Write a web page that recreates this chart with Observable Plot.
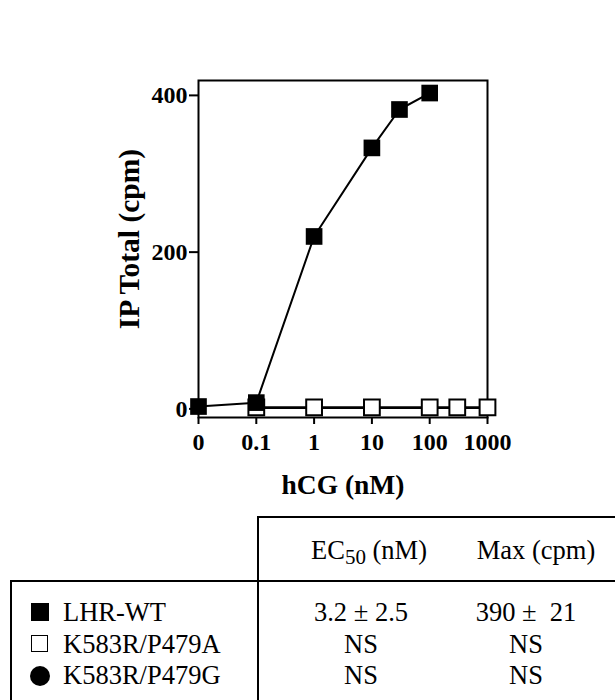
<!DOCTYPE html>
<html>
<head>
<meta charset="utf-8">
<script src="https://cdn.jsdelivr.net/npm/d3@7"></script>
<script src="https://cdn.jsdelivr.net/npm/@observablehq/plot@0.6"></script>
<style>
  html, body { margin: 0; padding: 0; background: #fff; }
  #wrap { position: relative; width: 615px; height: 700px; overflow: hidden; font-family: "Liberation Serif", "Times New Roman", serif; }
  #chart svg { display: block; }
  [aria-label^="x-axis"] line, [aria-label^="y-axis"] line,
  [aria-label="x-axis tick"] path, [aria-label="y-axis tick"] path { stroke-width: 2px; }
  .hl { position: absolute; background: #000; height: 2px; }
  .vl { position: absolute; background: #000; width: 2px; }
  .cell { position: absolute; font-size: 26.5px; line-height: 26.5px; white-space: pre; color: #000; }
  .ctr { transform: translateX(-50%); }
  .cell sub { font-size: 21px; vertical-align: -5px; line-height: 0; }
  .sym { position: absolute; box-sizing: border-box; }
</style>
</head>
<body>
<div id="wrap"><div id="chart"></div></div>
<script>
// ---- data ----
const doseWT = [0, 0.1, 1, 10, 30, 100];            // hCG (nM)
const ipWT   = [3, 8, 220, 333, 382, 403];          // IP total (cpm)
const doseA  = [0.1, 1, 10, 100, 300, 1000];
const ipA    = [2, 2, 2, 2, 2, 2];
const doseG  = [0.1, 1, 10, 100, 300, 1000];        // hidden behind open squares
const ipG    = [1, 1, 1, 1, 1, 1];
const xTicks = [0, 0.1, 1, 10, 100, 1000];
const yTicks = [0, 200, 400];
const seriesNames = ["LHR-WT", "K583R/P479A", "K583R/P479G"];
const ec50Values  = ["3.2 \u00B1 2.5", "NS", "NS"];
const maxValues   = ["390 \u00B1  21", "NS", "NS"];
const xLabel = "hCG (nM)";
const yLabel = "IP Total (cpm)";

// zero dose is drawn one decade below 0.1 on the log axis
const ZERO_POS = 0.01;
const pos = d => d === 0 ? ZERO_POS : d;
const toRows = (dose, ip) => dose.map((d, i) => ({dose: d, x: pos(d), ip: ip[i]}));
const wt = toRows(doseWT, ipWT);
const pa = toRows(doseA, ipA);
const pg = toRows(doseG, ipG);

const plot = Plot.plot({
  width: 615,
  height: 500,
  marginLeft: 198,
  marginRight: 128,
  marginTop: 80,
  marginBottom: 83,
  style: {fontFamily: "Liberation Serif, Times New Roman, serif", fontSize: "24px", fontWeight: "bold", color: "#000", background: "#fff"},
  x: {type: "log", domain: [ZERO_POS, 1000], ticks: xTicks.map(pos),
      tickFormat: d => d === ZERO_POS ? "0" : String(d), tickSize: 7, tickPadding: 8, label: null},
  y: {domain: [-11, 419], ticks: yTicks, tickSize: 9, tickPadding: 2, label: null},
  marks: [
    Plot.frame({stroke: "#000", strokeWidth: 2}),
    Plot.line(pg, {x: "x", y: "ip", stroke: "#000", strokeWidth: 2}),
    Plot.dot(pg, {x: "x", y: "ip", r: 8, fill: "#000", stroke: "none"}),
    Plot.line(pa, {x: "x", y: "ip", stroke: "#000", strokeWidth: 2}),
    Plot.dot(pa, {x: "x", y: "ip", symbol: "square", r: 8.9, fill: "#fff", stroke: "#000", strokeWidth: 2}),
    Plot.line(wt, {x: "x", y: "ip", stroke: "#000", strokeWidth: 2}),
    Plot.dot(wt, {x: "x", y: "ip", symbol: "square", r: 9.4, fill: "#000", stroke: "none"}),
    Plot.text([xLabel], {frameAnchor: "bottom", lineAnchor: "bottom", textAnchor: "middle", dy: 76, fontSize: 27.5, fontWeight: "bold", fill: "#000"}),
    Plot.text([yLabel], {frameAnchor: "left", textAnchor: "middle", rotate: -90, dx: -69, dy: -10, fontSize: 29.5, fontWeight: "bold", fill: "#000"})
  ]
});
document.getElementById("chart").appendChild(plot);

// ---- summary table (legend) below the chart ----
const wrap = document.getElementById("wrap");
function add(cls, style, html) {
  const el = document.createElement("div");
  el.className = cls;
  Object.assign(el.style, style);
  if (html != null) el.innerHTML = html;
  wrap.appendChild(el);
  return el;
}
// table rules
add("hl", {left: "258px", top: "516px", width: "357px"});
add("vl", {left: "257px", top: "516px", height: "184px"});
add("hl", {left: "10px", top: "580px", width: "605px"});
add("vl", {left: "10px", top: "580px", height: "120px"});

const ASC = 22.2; // baseline offset from top for 26.5px Liberation Serif, line-height 1
const cell = (text, left, baseline, centered) =>
  add("cell" + (centered ? " ctr" : ""), {left: left + "px", top: (baseline - ASC) + "px"}, text);

// headers
cell("EC<sub>50</sub> (nM)", 369, 559, true);
cell("Max (cpm)", 536, 559, true);

// rows
const baselines = [621, 653, 684];
seriesNames.forEach((name, i) => {
  cell(name, 63, baselines[i], false);
  cell(ec50Values[i], 361, baselines[i], true);
  cell(maxValues[i], 526, baselines[i], true);
});
// legend symbols
add("sym", {left: "31px", top: "603px", width: "18px", height: "18px", background: "#000"});
add("sym", {left: "31px", top: "635px", width: "17px", height: "17px", background: "#fff", border: "1.5px solid #000"});
add("sym", {left: "30px", top: "666px", width: "20px", height: "20px", background: "#000", borderRadius: "50%"});
</script>
</body>
</html>
